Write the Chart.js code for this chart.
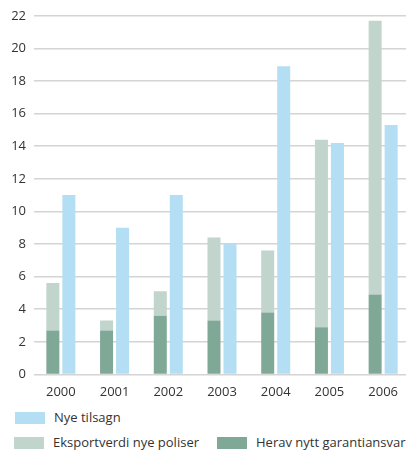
<!DOCTYPE html>
<html>
<head>
<meta charset="utf-8">
<script src="https://cdn.jsdelivr.net/npm/chart.js@4/dist/chart.umd.min.js"></script>
<style>
  html, body { margin: 0; padding: 0; background: #fff; overflow: hidden; }
  body { width: 406px; height: 452px; position: relative; font-family: "Open Sans", sans-serif; color: #333; }
  #wrap { position: absolute; left: 0; top: 0; width: 410px; height: 402px; }
  .legend { position: absolute; font-size: 13px; line-height: 14px; }
  .legend span.sw { position: absolute; width: 30px; height: 12px; }
  .legend span.txt { position: absolute; white-space: nowrap; }
</style>
</head>
<body>
<div id="wrap"><canvas id="chart"></canvas></div>
<div class="legend" id="legend"></div>
<script>
const years = ['2000', '2001', '2002', '2003', '2004', '2005', '2006'];
const nyeTilsagn = [11, 9, 11, 8, 18.9, 14.2, 15.3];
const eksportverdi = [5.6, 3.3, 5.1, 8.4, 7.6, 14.4, 21.7];
const heravGaranti = [2.7, 2.7, 3.6, 3.3, 3.8, 2.9, 4.9];
const yTicks = [0, 2, 4, 6, 8, 10, 12, 14, 16, 18, 20, 22];

const blue = '#b3def3';
const grey = '#c1d5cc';
const green = '#80a896';

// resten av eksportverdien som ligger over garantiansvaret
const eksportRest = eksportverdi.map((v, i) => +(v - heravGaranti[i]).toFixed(2));

new Chart(document.getElementById('chart'), {
  type: 'bar',
  data: {
    labels: years,
    datasets: [
      { label: 'Herav nytt garantiansvar', data: heravGaranti, backgroundColor: green, stack: 'eksport' },
      { label: 'Eksportverdi nye poliser', data: eksportRest, backgroundColor: grey, stack: 'eksport' },
      { label: 'Nye tilsagn', data: nyeTilsagn, backgroundColor: blue, stack: 'tilsagn' }
    ]
  },
  options: {
    responsive: true,
    maintainAspectRatio: false,
    animation: false,
    datasets: { bar: { categoryPercentage: 0.596, barPercentage: 0.8125 } },
    layout: { padding: { top: 11, right: 0, bottom: 0, left: 0 } },
    plugins: { legend: { display: false }, tooltip: { enabled: false } },
    scales: {
      x: {
        stacked: true,
        grid: { display: false },
        border: { display: false },
        ticks: { color: '#333', font: { family: 'Open Sans', size: 13 }, padding: 2 }
      },
      y: {
        stacked: true,
        min: 0,
        max: 22,
        afterBuildTicks: axis => { axis.ticks = yTicks.map(v => ({ value: v })); },
        afterFit: axis => { axis.width = 34; },
        grid: { color: '#d4d4d4', lineWidth: 1.5, drawTicks: false },
        border: { display: false },
        ticks: { color: '#333', font: { family: 'Open Sans', size: 13 }, padding: 8 }
      }
    }
  }
});

const legendItems = [
  { text: 'Nye tilsagn', color: blue, x: 15, y: 412 },
  { text: 'Eksportverdi nye poliser', color: grey, x: 14, y: 437 },
  { text: 'Herav nytt garantiansvar', color: green, x: 217, y: 437 }
];
const legend = document.getElementById('legend');
legendItems.forEach(item => {
  const sw = document.createElement('span');
  sw.className = 'sw';
  sw.style.left = item.x + 'px';
  sw.style.top = item.y + 'px';
  sw.style.background = item.color;
  legend.appendChild(sw);
  const txt = document.createElement('span');
  txt.className = 'txt';
  txt.style.left = (item.x + 39) + 'px';
  txt.style.top = (item.y - 2) + 'px';
  txt.textContent = item.text;
  legend.appendChild(txt);
});
</script>
</body>
</html>
